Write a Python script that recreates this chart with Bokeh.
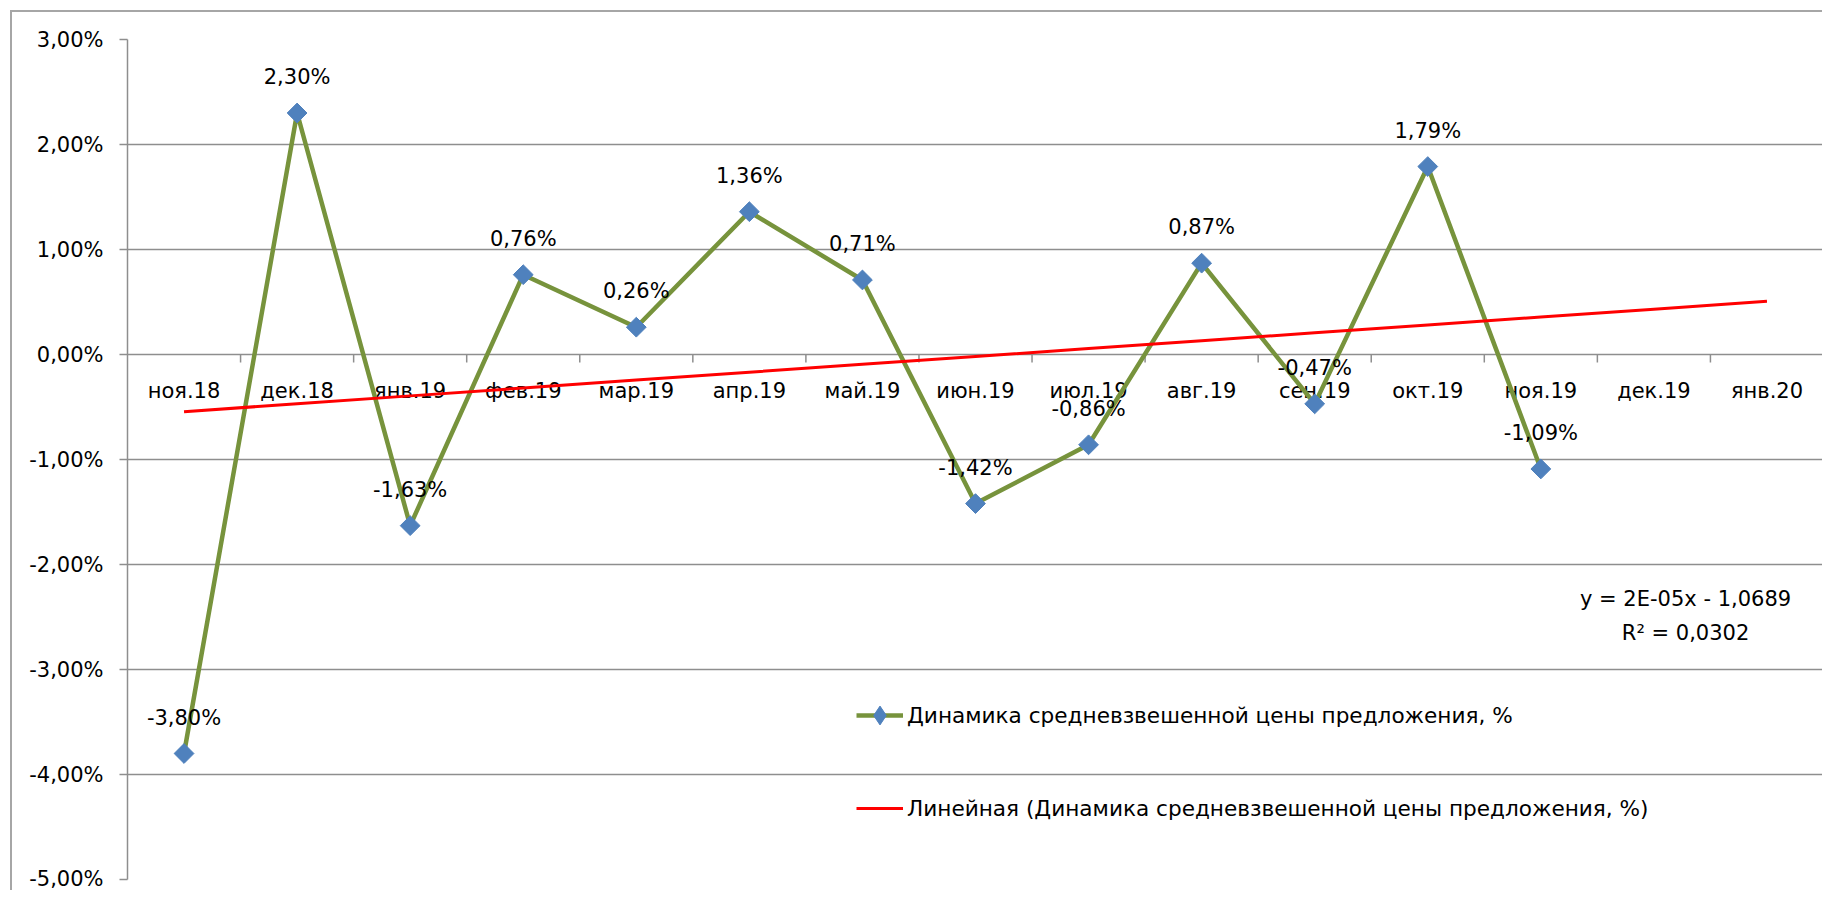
import numpy as np
from bokeh.plotting import figure
from bokeh.models import Range1d, FixedTicker, Label, Legend, LegendItem
from bokeh.core.properties import value
from bokeh.embed import file_html
from bokeh.resources import INLINE

# ---------------- data ----------------
months = ["ноя.18", "дек.18", "янв.19", "фев.19", "мар.19", "апр.19", "май.19",
          "июн.19", "июл.19", "авг.19", "сен.19", "окт.19", "ноя.19", "дек.19", "янв.20"]
values = [-3.80, 2.30, -1.63, 0.76, 0.26, 1.36, 0.71, -1.42, -0.86, 0.87, -0.47, 1.79, -1.09]
value_labels = ["-3,80%", "2,30%", "-1,63%", "0,76%", "0,26%", "1,36%", "0,71%",
                "-1,42%", "-0,86%", "0,87%", "-0,47%", "1,79%", "-1,09%"]
y_ticks = [-5, -4, -3, -2, -1, 0, 1, 2, 3]
y_tick_labels = ["-5,00%", "-4,00%", "-3,00%", "-2,00%", "-1,00%", "0,00%", "1,00%", "2,00%", "3,00%"]
series_name = "Динамика средневзвешенной цены предложения, %"
trend_name = "Линейная (Динамика средневзвешенной цены предложения, %)"
trend_eq = "y = 2E-05x - 1,0689"
trend_r2 = "R² = 0,0302"
eq_x, eq_y1, eq_y2 = 13.78, -2.33, -2.65

# ---------------- styling ----------------
FONT = "DejaVu Sans"
FS = "21px"
FS_LEG = "21.6px"
GREEN = "#77933C"
BLUE = "#4F81BD"
RED = "#FF0000"
GRID = "#8e8e8e"

n_cat = len(months)
x_all = np.arange(n_cat) + 0.5
x_data = x_all[:len(values)]
boundaries = np.arange(1, n_cat + 1)

coef = np.polyfit(np.arange(len(values)), values, 1)
trend = np.polyval(coef, np.arange(n_cat))

p = figure(width=1812, height=880, output_backend="svg", toolbar_location=None,
           x_range=Range1d(0, n_cat), y_range=Range1d(-5, 3),
           x_axis_location=None,
           min_border_left=115, min_border_right=1, min_border_top=27, min_border_bottom=13)
p.margin = (10, 0, 0, 10)
p.styles = {"border-left": "2px solid #a6a6a6", "border-top": "2px solid #a6a6a6"}
p.outline_line_color = None
p.background_fill_color = "white"
p.border_fill_color = "white"

# y axis
p.yaxis.ticker = FixedTicker(ticks=y_ticks)
p.yaxis.major_label_overrides = {t: l for t, l in zip(y_ticks, y_tick_labels)}
p.yaxis.axis_line_color = GRID
p.yaxis.axis_line_width = 1.5
p.yaxis.major_tick_line_color = GRID
p.yaxis.major_tick_line_width = 1.5
p.yaxis.major_tick_out = 8
p.yaxis.major_tick_in = 0
p.yaxis.minor_tick_line_color = None
p.yaxis.major_label_standoff = 16
p.yaxis.major_label_text_font = FONT
p.yaxis.major_label_text_font_size = FS
p.yaxis.major_label_text_color = "black"

p.xgrid.visible = False
p.ygrid.ticker = FixedTicker(ticks=y_ticks)
p.ygrid.grid_line_color = GRID
p.ygrid.grid_line_width = 1.5

# category tick marks hanging from the zero line
p.ray(x=boundaries, y=[0] * len(boundaries), length=8, length_units="screen",
      angle=-np.pi / 2, line_color=GRID, line_width=1.5)

# category labels under the zero line
p.text(x=x_all, y=[0] * n_cat, text=months, text_align="center", text_baseline="middle",
       y_offset=36, text_font=value(FONT), text_font_size=FS, text_color="black")

# series
line_r = p.line(x_data, values, line_color=GREEN, line_width=4.5)
trend_r = p.line(x_all, trend, line_color=RED, line_width=3)
mark_r = p.scatter(x_data, values, marker="square", size=14, angle=np.pi / 4,
                   fill_color=BLUE, line_color=BLUE)
# legend-only marker (diamond as shown in the legend swatch); NaN position is never drawn
leg_mark = p.scatter(x=[np.nan], y=[np.nan], marker="diamond", size=19,
                     fill_color=BLUE, line_color=BLUE)

# data labels
p.text(x=x_data, y=values, text=value_labels, text_align="center", text_baseline="middle",
       y_offset=-36, text_font=value(FONT), text_font_size=FS, text_color="black")

# trend equation
for yy, t in ((eq_y1, trend_eq), (eq_y2, trend_r2)):
    p.add_layout(Label(x=eq_x, y=yy, text=t, text_align="center", text_baseline="middle",
                       text_font=FONT, text_font_size=FS, text_color="black"))

legend = Legend(items=[LegendItem(label=series_name, renderers=[line_r, leg_mark]),
                       LegendItem(label=trend_name, renderers=[trend_r])],
                location=(729, 47), orientation="vertical")
legend.padding = 0
legend.margin = 0
legend.border_line_alpha = 0
legend.background_fill_alpha = 0
legend.glyph_width = 47
legend.glyph_height = 48
legend.label_height = 48
legend.label_standoff = 4
legend.spacing = 45
legend.label_text_font = FONT
legend.label_text_font_size = FS_LEG
legend.label_text_color = "black"
p.add_layout(legend)

open("out.html", "w").write(file_html(p, INLINE))
